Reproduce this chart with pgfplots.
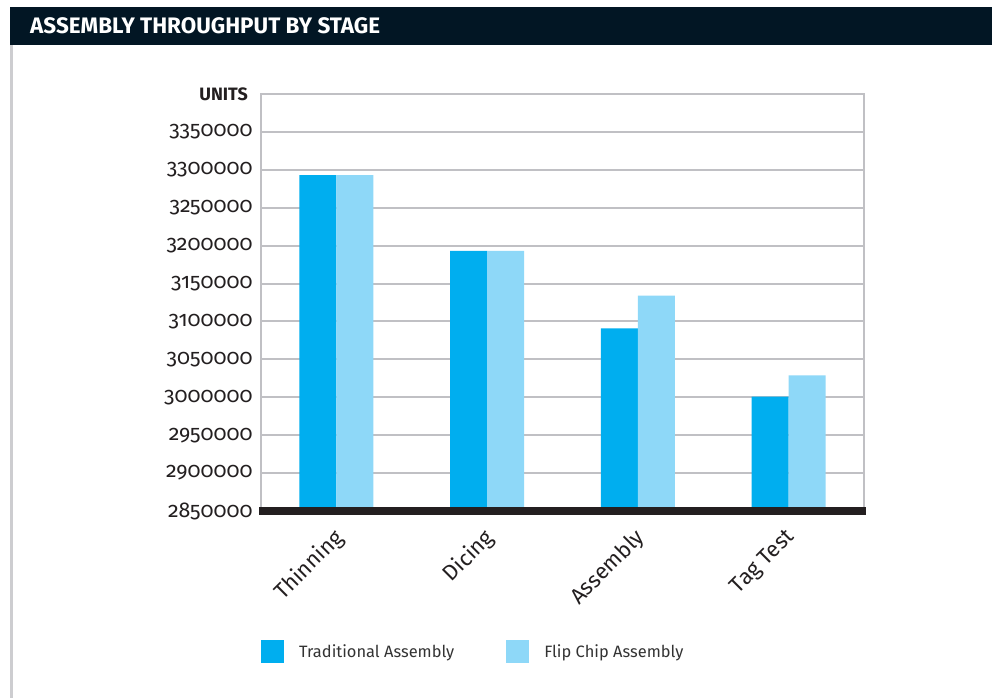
\documentclass[border=0pt]{standalone}
\usepackage{fontspec}
\setmainfont{Fira Sans}[Numbers=OldStyle]
\usepackage{pgfplots}
\pgfplotsset{compat=1.18}
\definecolor{navy}{HTML}{021624}
\definecolor{tradc}{HTML}{00AEEF}
\definecolor{flipc}{HTML}{8ED8F8}
\definecolor{gridc}{HTML}{C0C0C4}
\definecolor{darkc}{HTML}{231F20}
\definecolor{txtc}{HTML}{333333}
\begin{document}
\begin{tikzpicture}
\useasboundingbox (0,0) rectangle (992bp,698bp);
\fill[white] (0,0) rectangle (992bp,698bp);
\fill[navy] (10bp,653bp) rectangle (992bp,691bp);
\node[anchor=west, text=white, font=\bfseries\fontsize{22.5}{26}\selectfont, inner sep=0pt] at (30bp,672bp) {ASSEMBLY THROUGHPUT BY STAGE};
\draw[gridc!80, line width=3bp] (11.5bp,0) -- (11.5bp,653bp);
\begin{axis}[
  at={(261bp,187bp)}, anchor=south west,
  width=603bp, height=417bp, scale only axis,
  xmin=-0.5, xmax=3.5, ymin=2850000, ymax=3400000,
  ytick={2850000,2900000,...,3350000},
  xtick=data,
  xticklabels={Thinning,Dicing,Assembly,Tag Test},
  ymajorgrids, major grid style={gridc, line width=2bp},
  axis line style={gridc, line width=2bp},
  tick style={draw=none},
  /pgf/number format/assume math mode=true,
  /pgf/number format/fixed,
  /pgf/number format/1000 sep={},
  scaled y ticks=false,
  yticklabel style={font=\fontsize{21.5}{24}\selectfont, text=darkc, xshift=-5bp},
  xticklabel style={font=\fontsize{22}{24}\selectfont, text=darkc, rotate=45, anchor=north east, xshift=-8bp, yshift=-2bp},
  ybar=0pt, bar width=37bp,
  legend columns=2,
  legend style={at={(0,-0.338)}, anchor=west, draw=none, fill=none, inner sep=0pt,
    font=\fontsize{16.5}{20}\selectfont, text=txtc,
    /tikz/every even column/.style={column sep=50bp}},
  legend image code/.code={\fill[#1] (0bp,-11.5bp) rectangle (23bp,11.5bp); \path (36bp,0);},
  clip=false,
]
\addplot[fill=tradc, draw=none] coordinates {(0,3293000) (1,3193000) (2,3091000) (3,3001000)};
\addplot[fill=flipc, draw=none] coordinates {(0,3293000) (1,3193000) (2,3134000) (3,3029000)};
\legend{Traditional Assembly, Flip Chip Assembly}
\draw[darkc, line width=8bp] ([xshift=-2bp]axis cs:-0.5,2850000) -- ([xshift=2bp]axis cs:3.5,2850000);
\node[anchor=east, font=\bfseries\fontsize{18}{20}\selectfont, text=darkc, inner sep=0pt] at ([xshift=-13bp]axis description cs:0,1) {UNITS};
\end{axis}
\end{tikzpicture}
\end{document}
